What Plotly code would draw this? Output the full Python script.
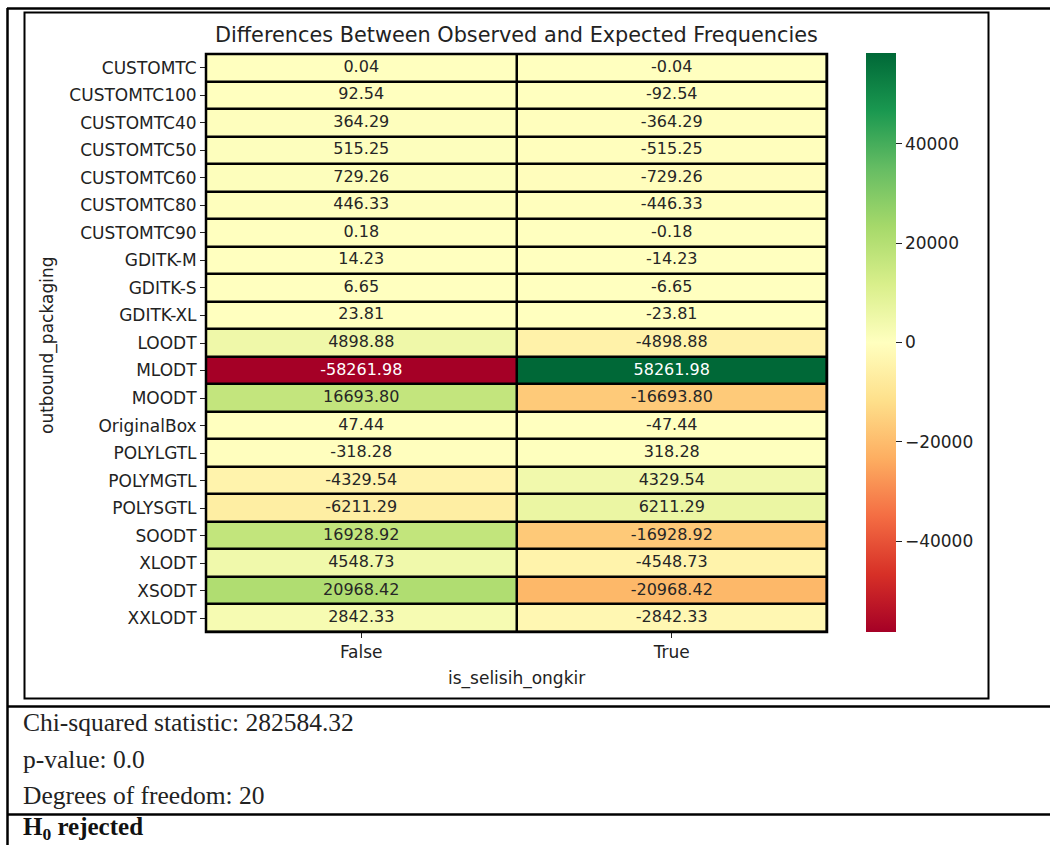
import plotly.graph_objects as go

# Contingency residuals: observed minus expected counts per packaging type
packaging = [
    "CUSTOMTC", "CUSTOMTC100", "CUSTOMTC40", "CUSTOMTC50", "CUSTOMTC60",
    "CUSTOMTC80", "CUSTOMTC90", "GDITK-M", "GDITK-S", "GDITK-XL", "LOODT",
    "MLODT", "MOODT", "OriginalBox", "POLYLGTL", "POLYMGTL", "POLYSGTL",
    "SOODT", "XLODT", "XSODT", "XXLODT",
]
columns = ["False", "True"]
diff_false = [
    0.04, 92.54, 364.29, 515.25, 729.26, 446.33, 0.18, 14.23, 6.65, 23.81,
    4898.88, -58261.98, 16693.80, 47.44, -318.28, -4329.54, -6211.29,
    16928.92, 4548.73, 20968.42, 2842.33,
]
diff_true = [
    -0.04, -92.54, -364.29, -515.25, -729.26, -446.33, -0.18, -14.23, -6.65,
    -23.81, -4898.88, 58261.98, -16693.80, -47.44, 318.28, 4329.54, 6211.29,
    -16928.92, -4548.73, -20968.42, -2842.33,
]
cbar_ticks = [-40000, -20000, 0, 20000, 40000]

chi2_stat = "282584.32"
p_value = "0.0"
dof = "20"

W, H = 1050, 845


def px(x):
    return x / W


def py(y):
    return 1 - y / H


z = [[a, b] for a, b in zip(diff_false, diff_true)]
vmax = max(abs(v) for row in z for v in row)

fig = go.Figure()
fig.add_trace(go.Heatmap(
    z=z, x=columns, y=packaging,
    colorscale="RdYlGn", zmin=-vmax, zmax=vmax,
    xgap=2.5, ygap=2.5,
    hoverinfo="skip",
    colorbar=dict(
        x=px(866), xanchor="left", xpad=0,
        y=py(342.5), yanchor="middle", ypad=0,
        thickness=30, thicknessmode="pixels",
        len=579, lenmode="pixels",
        outlinewidth=0,
        tickvals=cbar_ticks, tickformat="d",
        ticks="outside", ticklen=6, tickcolor="#222",
        tickfont=dict(family="DejaVu Sans", size=17, color="#222"),
    ),
))

# Cell annotations, light text on the darkest cells
xs, ys, labels, colors = [], [], [], []
for name, a, b in zip(packaging, diff_false, diff_true):
    for col, v in zip(columns, (a, b)):
        xs.append(col)
        ys.append(name)
        labels.append(f"{v:.2f}")
        colors.append("white" if abs(v) > 0.75 * vmax else "#262626")
fig.add_trace(go.Scatter(
    x=xs, y=ys, text=labels, mode="text",
    textfont=dict(family="DejaVu Sans", size=16, color=colors),
    hoverinfo="skip", showlegend=False,
))

fig.update_layout(
    width=W, height=H,
    margin=dict(l=0, r=0, t=0, b=0),
    paper_bgcolor="white",
    plot_bgcolor="black",
    showlegend=False,
    xaxis=dict(
        domain=[px(206), px(827)], type="category",
        range=[-0.5, len(columns) - 0.5],
        showgrid=False, zeroline=False,
        ticks="outside", ticklen=5, tickcolor="#222",
        tickfont=dict(family="DejaVu Sans", size=17, color="#222"),
    ),
    yaxis=dict(
        domain=[py(632), py(54)], type="category",
        range=[len(packaging) - 0.5, -0.5],
        showgrid=False, zeroline=False,
        ticks="outside", ticklen=5, tickcolor="#222",
        tickfont=dict(family="DejaVu Sans", size=17, color="#222"),
    ),
)

# Outline of the heatmap block
fig.add_shape(type="rect", xref="x domain", yref="y domain",
              x0=0, x1=1, y0=0, y1=1, line=dict(color="black", width=2.5))

lines = dict(color="black", width=2.5)
# Surrounding table rules
fig.add_shape(type="line", xref="paper", yref="paper",
              x0=px(7), x1=1, y0=py(8.5), y1=py(8.5), line=lines)
fig.add_shape(type="line", xref="paper", yref="paper",
              x0=px(7.5), x1=px(7.5), y0=py(8), y1=0, line=lines)
fig.add_shape(type="line", xref="paper", yref="paper",
              x0=px(7), x1=1, y0=py(706.5), y1=py(706.5), line=lines)
fig.add_shape(type="line", xref="paper", yref="paper",
              x0=px(7), x1=1, y0=py(814.5), y1=py(814.5), line=lines)
# Frame around the figure image
fig.add_shape(type="rect", xref="paper", yref="paper",
              x0=px(24.5), x1=px(988.5), y0=py(12.5), y1=py(698.5),
              line=dict(color="black", width=2))

sans = dict(family="DejaVu Sans", color="#222")
fig.add_annotation(text="Differences Between Observed and Expected Frequencies",
                   xref="paper", yref="paper", x=px(516.5), y=py(35),
                   showarrow=False, xanchor="center", yanchor="middle",
                   font=dict(size=20.8, **sans))
fig.add_annotation(text="is_selisih_ongkir",
                   xref="paper", yref="paper", x=px(516.5), y=py(678),
                   showarrow=False, xanchor="center", yanchor="middle",
                   font=dict(size=17, **sans))
fig.add_annotation(text="outbound_packaging", textangle=-90,
                   xref="paper", yref="paper", x=px(47), y=py(346),
                   showarrow=False, xanchor="center", yanchor="middle",
                   font=dict(size=17, **sans))

serif = dict(family="Liberation Serif", color="#222", size=25.5)
for label, yc in [(f"Chi-squared statistic: {chi2_stat}", 722),
                  (f"p-value: {p_value}", 759),
                  (f"Degrees of freedom: {dof}", 795)]:
    fig.add_annotation(text=label, xref="paper", yref="paper",
                       x=px(21), y=py(yc), showarrow=False,
                       xanchor="left", yanchor="middle", font=serif)
fig.add_annotation(text="<b>H<sub>0</sub> rejected</b>", xref="paper", yref="paper",
                   x=px(21), y=py(828), showarrow=False,
                   xanchor="left", yanchor="middle",
                   font=dict(family="Liberation Serif", color="#111", size=25))

fig.write_html("out.html")
